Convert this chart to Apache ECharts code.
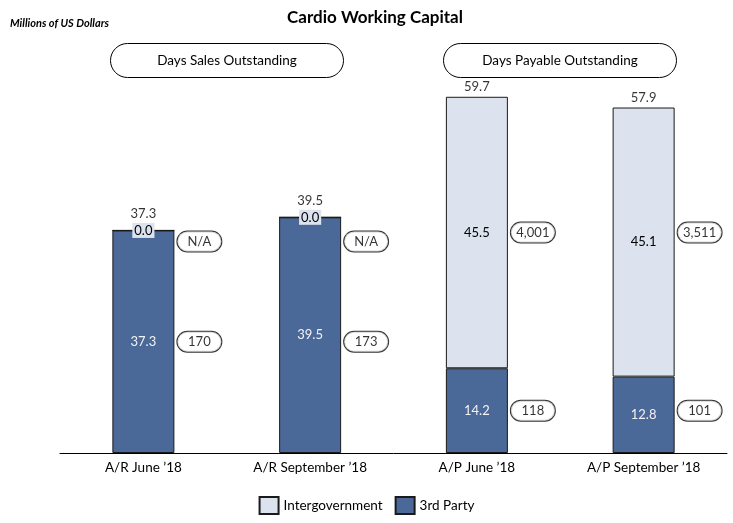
<!DOCTYPE html>
<html><head><meta charset="utf-8">
<script src="https://cdn.jsdelivr.net/npm/echarts@6/dist/echarts.min.js"></script>
<style>html,body{margin:0;padding:0;background:#fff}#c{width:733px;height:523px}</style>
</head><body><div id="c"></div>
<script>
const categories = ['A/R June \u201918', 'A/R September \u201918', 'A/P June \u201918', 'A/P September \u201918'];
const thirdParty = [37.3, 39.5, 14.2, 12.8];
const intergov = [0.0, 0.0, 45.5, 45.1];
const thirdPartyDays = ['170', '173', '118', '101'];
const intergovDays = ['N/A', 'N/A', '4,001', '3,511'];
const groupHeaders = ['Days Sales Outstanding', 'Days Payable Outstanding'];

const FONT = 'Lato, "Noto Sans", sans-serif';
const DARK = '#4a6898';
const LIGHT = '#dde3ee';
const totals = thirdParty.map((v, i) => +(v + intergov[i]).toFixed(1));
// pills in each pair of bars share the vertical level of the pair's first bar
const lead = i => i - (i % 2);

const pillRich = {
  p: { borderColor: '#000', borderWidth: 1, borderRadius: 10, width: 30, align: 'center',
       padding: [4, 7, 3, 7], fontSize: 13, color: '#000', fontFamily: FONT, backgroundColor: '#fff' }
};

const chart = echarts.init(document.getElementById('c'), null, { renderer: 'canvas' });
chart.setOption({
  animation: false,
  textStyle: { fontFamily: FONT },
  title: {
    text: 'Cardio Working Capital', left: 370, top: 4, textAlign: 'center',
    textStyle: { fontSize: 17, fontWeight: 'bold', color: '#000', fontFamily: FONT }
  },
  grid: { left: 60, right: 6, top: 95, bottom: 70 },
  legend: {
    data: ['Intergovernment', '3rd Party'], bottom: 3, left: 'center',
    itemWidth: 19, itemHeight: 17, itemGap: 12,
    textStyle: { fontSize: 13.5, color: '#000', fontFamily: FONT },
    icon: 'rect'
  },
  xAxis: {
    type: 'category', data: categories,
    axisLine: { lineStyle: { color: '#000', width: 1 } },
    axisTick: { show: false },
    axisLabel: { color: '#000', fontSize: 13.5, margin: 8, fontFamily: FONT }
  },
  yAxis: { type: 'value', min: 0, max: 60, show: false, splitLine: { show: false } },
  graphic: [
    { type: 'text', left: 10, top: 18,
      style: { text: 'Millions of US Dollars', font: 'italic bold 11px ' + FONT, fill: '#000' } },
    { type: 'group', left: 110, top: 43, children: [
      { type: 'rect', shape: { x: 0, y: 0, width: 233, height: 34, r: 17 },
        style: { fill: '#fff', stroke: '#000', lineWidth: 1 } },
      { type: 'text', style: { x: 116.5, y: 17, text: groupHeaders[0], align: 'center', verticalAlign: 'middle',
        font: '13.5px ' + FONT, fill: '#000' } }
    ] },
    { type: 'group', left: 443, top: 43, children: [
      { type: 'rect', shape: { x: 0, y: 0, width: 233, height: 34, r: 17 },
        style: { fill: '#fff', stroke: '#000', lineWidth: 1 } },
      { type: 'text', style: { x: 116.5, y: 17, text: groupHeaders[1], align: 'center', verticalAlign: 'middle',
        font: '13.5px ' + FONT, fill: '#000' } }
    ] }
  ],
  series: [
    {
      name: '3rd Party', type: 'bar', stack: 'a', barWidth: 62,
      data: thirdParty,
      itemStyle: { color: DARK, borderColor: '#1a1a1a', borderWidth: 1 },
      label: { show: true, position: 'inside', color: '#f2f2f2', fontSize: 13, fontFamily: FONT,
               formatter: p => p.value.toFixed(1) }
    },
    {
      name: 'Intergovernment', type: 'bar', stack: 'a', barWidth: 62,
      data: intergov,
      itemStyle: { color: LIGHT, borderColor: '#1a1a1a', borderWidth: 1 },
      label: { show: true, position: 'inside', color: '#000', fontSize: 13, fontFamily: FONT,
               backgroundColor: LIGHT, padding: [1, 2],
               formatter: p => p.value.toFixed(1) }
    },
    {
      name: 'totals', type: 'scatter', symbolSize: 0, silent: true,
      data: totals.map((t, i) => ({ value: [i, t],
        label: { distance: intergov[i] === 0 ? 10 : 3 } })),
      label: { show: true, position: 'top', color: '#000', fontSize: 13, fontFamily: FONT,
               formatter: p => p.value[1].toFixed(1) }
    },
    {
      name: 'pillsLow', type: 'scatter', symbolSize: 0, silent: true,
      data: thirdParty.map((v, i) => ({ value: [i, thirdParty[lead(i)] / 2], name: thirdPartyDays[i] })),
      label: { show: true, position: 'right', distance: 34, formatter: p => '{p|' + p.name + '}', rich: pillRich }
    },
    {
      name: 'pillsHigh', type: 'scatter', symbolSize: 0, silent: true,
      data: intergov.map((v, i) => {
        const j = lead(i);
        return { value: [i, thirdParty[j] + intergov[j] / 2], name: intergovDays[i],
          label: { offset: intergov[j] === 0 ? [0, 11] : [0, 0] } };
      }),
      label: { show: true, position: 'right', distance: 34, formatter: p => '{p|' + p.name + '}', rich: pillRich }
    }
  ]
});
</script></body></html>
